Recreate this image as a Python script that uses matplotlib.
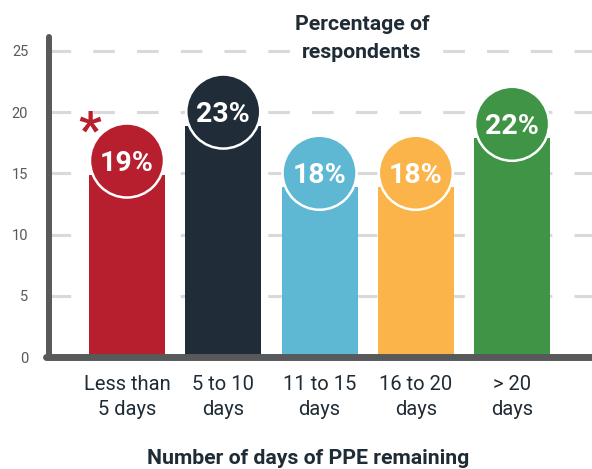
import matplotlib
matplotlib.use('Agg')
import matplotlib.pyplot as plt
from matplotlib import font_manager

#Data
categories = ["Less than\n5 days", "5 to 10\ndays", "11 to 15\ndays", "16 to 20\ndays", "> 20\ndays"]
values = [19, 23, 18, 18, 22]
labels = ["19%", "23%", "18%", "18%", "22%"]
colors = ["#b71f2e", "#202d38", "#5eb7d3", "#fab44a", "#409446"]
yticks = [0, 5, 10, 15, 20, 25]

#Pick a narrow font if there is one
names = set(f.name for f in font_manager.fontManager.ttflist)
narrow = 'Liberation Sans Narrow' if 'Liberation Sans Narrow' in names else 'Roboto'
plt.rcParams['font.family'] = [narrow, 'DejaVu Sans']
plt.rcParams['lines.scale_dashes'] = False

dark = "#1f2b35"
axis_grey = "#58595b"

W, H = 592, 469
fig = plt.figure(figsize=(W / 100, H / 100), dpi=100)
ax = fig.add_axes([49 / W, (H - 357) / H, (W - 49) / W, (357 - 37) / H])
ax.set_xlim(-0.81, 4.83)
ax.set_ylim(0, 26.14)
for s in ax.spines.values():
    s.set_visible(False)

#Dashed grid
for t in yticks[1:]:
    ax.axhline(t, color="#d9d9d9", lw=2.2, linestyle=(0, (15.6, 15.9)), zorder=0)

#Bars with round caps
x = list(range(len(values)))
ax.bar(x, [v - 4.1 for v in values], width=0.79, color=colors, zorder=2)
ax.scatter(x, [v - 2.95 for v in values], s=2840, c=colors, edgecolors='white',
           linewidths=1.8, zorder=3)
for i in x:
    ax.text(i, values[i] - 3.2, labels[i], ha='center', va='center', color='white',
            fontsize=20.5, fontweight='bold', family='Roboto', zorder=4)

#Asterisk
ax.text(-0.385, 18.35, "*", ha='center', va='center', color=colors[0], fontsize=36,
        fontweight='bold', family='Roboto', zorder=4)

#Axis lines
ax.plot([-0.81, -0.81], [0, 26.14], color=axis_grey, lw=4.3, solid_capstyle='round',
        clip_on=False, zorder=5)
ax.plot([-0.84, 4.9], [0, 0], color=axis_grey, lw=5, solid_capstyle='round',
        clip_on=False, zorder=5)

ax.set_yticks(yticks)
ax.set_yticklabels([str(t) for t in yticks], color=axis_grey, fontsize=10.5)
ax.set_xticks(x)
ax.set_xticklabels(categories, color=dark, fontsize=14.5, linespacing=1.4)
ax.tick_params(axis='y', length=0, pad=15)
ax.tick_params(axis='x', length=0, pad=13)

#Title and axis label
fig.text(362 / W, 1 - 39 / H, "Percentage of\nrespondents", ha='center', va='center',
         fontsize=15.3, fontweight='bold', color=dark, linespacing=1.6,
         bbox=dict(facecolor='white', edgecolor='none', pad=2))
fig.text(308 / W, 1 - 458 / H, "Number of days of PPE remaining", ha='center', va='center',
         fontsize=15.3, fontweight='bold', color=dark)

fig.savefig('out.png', dpi=100)
